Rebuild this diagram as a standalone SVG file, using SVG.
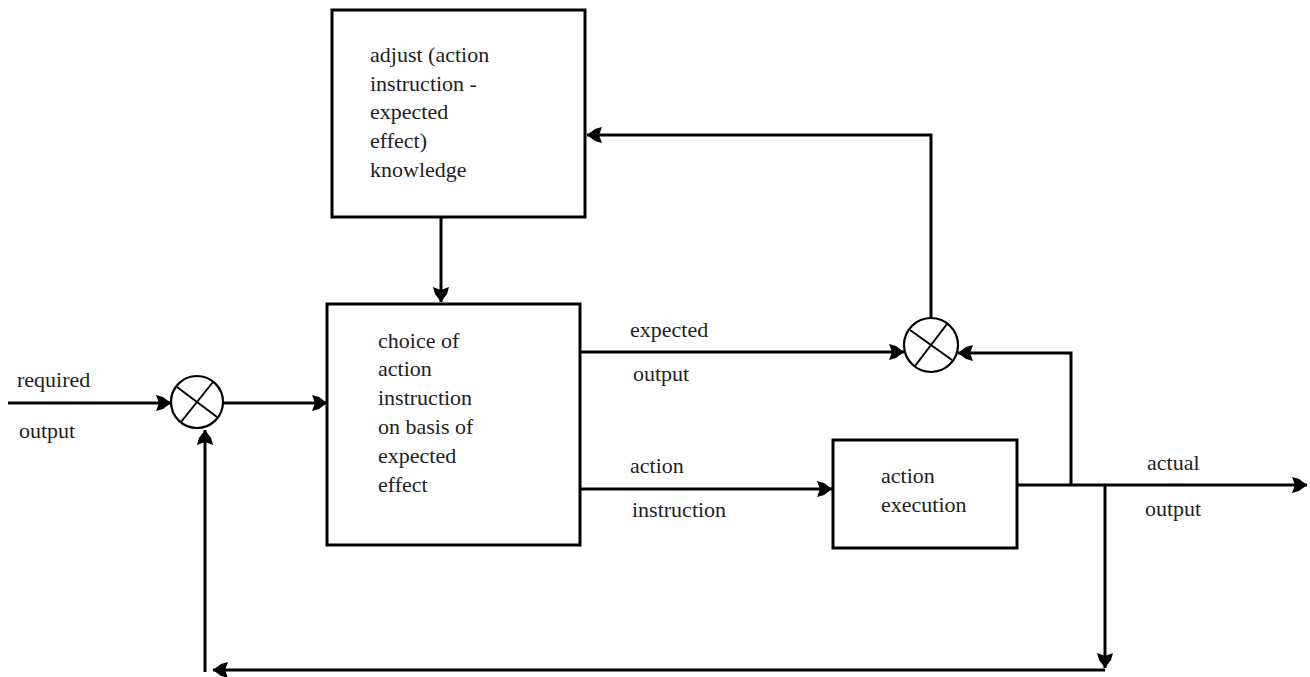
<svg xmlns="http://www.w3.org/2000/svg" width="1310" height="677" viewBox="0 0 1310 677">
  <style>
    .box { fill: #ffffff; stroke: #000000; stroke-width: 3; }
    .wire { fill: none; stroke: #000000; stroke-width: 3; }
    .sum { fill: #ffffff; stroke: #000000; stroke-width: 2.2; }
    .cross { stroke: #000000; stroke-width: 2; }
    .lbl { font-family: 'Liberation Serif', 'Times New Roman', Times, serif; font-size: 22px; fill: #1e1e1e; }
  </style>
  <defs>
    <marker id="arrow" markerUnits="userSpaceOnUse" viewBox="0 -9 17 18" refX="16" refY="0" markerWidth="17" markerHeight="18" orient="auto">
      <path d="M1,-8 L8,-6 L16,0 L8,6 L1,8 L4,0 Z" fill="#000000"/>
    </marker>
  </defs>
  <rect width="1310" height="677" fill="#ffffff"/>

  <!-- connectors -->
  <g id="connectors">
    <!-- required output into first comparator -->
    <line class="wire" x1="8" y1="403" x2="171" y2="403" marker-end="url(#arrow)"/>
    <!-- comparator to choice block -->
    <line class="wire" x1="223" y1="403" x2="327" y2="403" marker-end="url(#arrow)"/>
    <!-- knowledge block down into choice block -->
    <line class="wire" x1="441" y1="217" x2="441" y2="302" marker-end="url(#arrow)"/>
    <!-- expected output to second comparator -->
    <line class="wire" x1="580" y1="352" x2="904" y2="352" marker-end="url(#arrow)"/>
    <!-- action instruction to execution -->
    <line class="wire" x1="580" y1="489" x2="832" y2="489" marker-end="url(#arrow)"/>
    <!-- actual output -->
    <line class="wire" x1="1017" y1="485" x2="1307" y2="485" marker-end="url(#arrow)"/>
    <!-- actual output back to second comparator -->
    <polyline class="wire" points="1071,485 1071,353 958,353" marker-end="url(#arrow)"/>
    <!-- comparator result to knowledge adjustment -->
    <polyline class="wire" points="931,318 931,135 587,135" marker-end="url(#arrow)"/>
    <!-- feedback path to first comparator -->
    <line class="wire" x1="1105" y1="485" x2="1105" y2="668" marker-end="url(#arrow)"/>
    <line class="wire" x1="1105" y1="670" x2="213" y2="670" marker-end="url(#arrow)"/>
    <line class="wire" x1="205" y1="672" x2="205" y2="430" marker-end="url(#arrow)"/>
  </g>

  <!-- knowledge adjustment block -->
  <g id="adjust-knowledge" class="lbl">
    <rect class="box" x="332" y="10" width="253" height="207"/>
    <text x="370" y="62">adjust (action</text>
    <text x="370" y="91">instruction -</text>
    <text x="370" y="119">expected</text>
    <text x="370" y="148">effect)</text>
    <text x="370" y="177">knowledge</text>
  </g>

  <!-- action choice block -->
  <g id="choice" class="lbl">
    <rect class="box" x="327" y="304" width="253" height="241"/>
    <text x="378" y="348">choice of</text>
    <text x="378" y="376">action</text>
    <text x="378" y="405">instruction</text>
    <text x="378" y="434">on basis of</text>
    <text x="378" y="463">expected</text>
    <text x="378" y="492">effect</text>
  </g>

  <!-- execution block -->
  <g id="execution" class="lbl">
    <rect class="box" x="833" y="440" width="184" height="108"/>
    <text x="881" y="483">action</text>
    <text x="881" y="512">execution</text>
  </g>

  <!-- comparator on required output -->
  <g id="comparator-1">
    <circle class="sum" cx="197" cy="402" r="26"/>
    <line class="cross" x1="177" y1="387" x2="217" y2="417"/>
    <line class="cross" x1="213" y1="382" x2="181" y2="422"/>
  </g>

  <!-- comparator on expected output -->
  <g id="comparator-2">
    <circle class="sum" cx="931" cy="345" r="27"/>
    <line class="cross" x1="910" y1="330" x2="952" y2="360"/>
    <line class="cross" x1="947" y1="324" x2="915" y2="366"/>
  </g>

  <!-- signal labels -->
  <g id="labels" class="lbl">
    <text x="17" y="387">required</text>
    <text x="19" y="438">output</text>
    <text x="630" y="337">expected</text>
    <text x="633" y="381">output</text>
    <text x="630" y="473">action</text>
    <text x="632" y="517">instruction</text>
    <text x="1147" y="470">actual</text>
    <text x="1145" y="516">output</text>
  </g>
</svg>
